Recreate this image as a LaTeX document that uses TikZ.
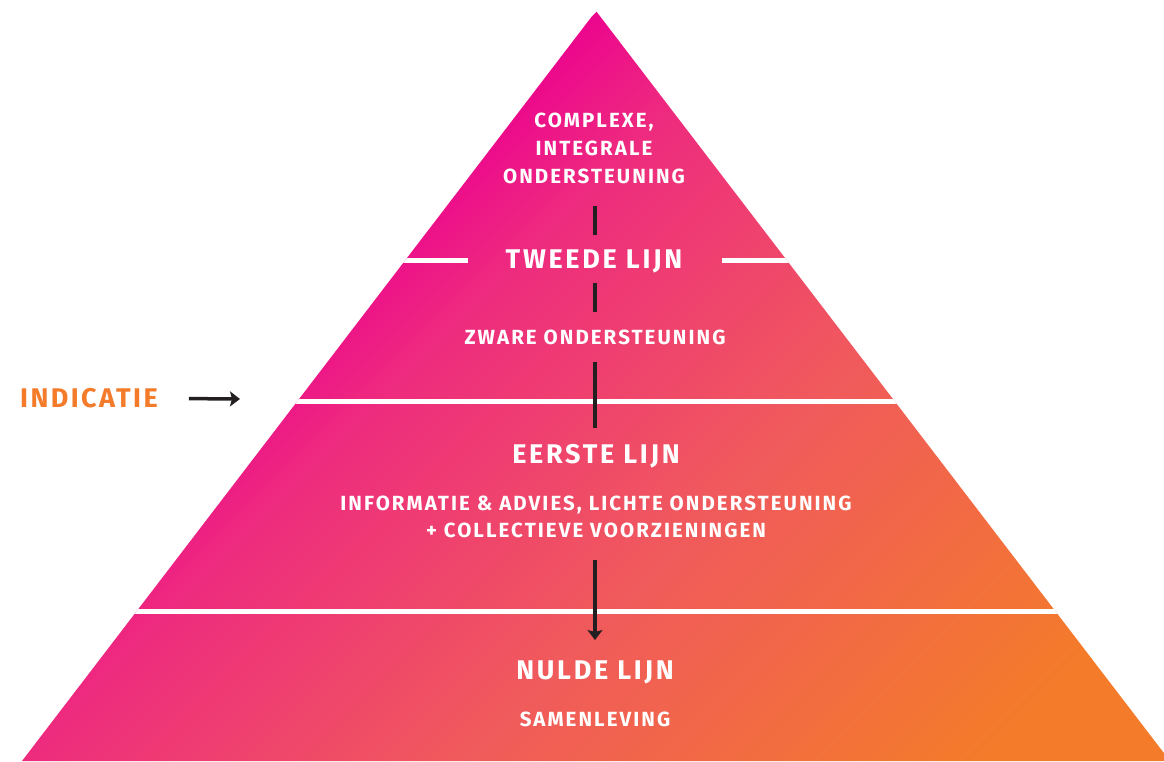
\documentclass[tikz,border=0pt]{standalone}
\usepackage{fontspec}
\setmainfont{Fira Sans}[LetterSpace=10]
\newfontfamily\indicfont{Fira Sans}[LetterSpace=9]
\usetikzlibrary{arrows.meta}

\definecolor{pyrmagenta}{HTML}{EC068D}
\definecolor{pyrpink}{HTML}{EE2C7E}
\definecolor{pyrmid}{HTML}{F05A5C}
\definecolor{pyrorange}{HTML}{F47B2A}
\definecolor{spinegray}{HTML}{231F20}
\definecolor{indicorange}{HTML}{F47B2A}

\pgfdeclarehorizontalshading{pyrgrad}{100bp}{color(0bp)=(pyrmagenta); color(25bp)=(pyrmagenta);
  color(31.6bp)=(pyrpink); color(47.6bp)=(pyrmid); color(67.1bp)=(pyrorange); color(100bp)=(pyrorange)}

\begin{document}
\begin{tikzpicture}[x=1pt,y=-1pt,
  smalltxt/.style={text=white,font=\bfseries\fontsize{20.5}{28}\selectfont,inner sep=0pt,anchor=base},
  lijntxt/.style={text=white,font=\bfseries\fontsize{27}{32}\selectfont,inner sep=0pt,anchor=base},
  spine/.style={draw=spinegray,line width=4pt},
  stripe/.style={draw=white,line width=5pt},
  >={Stealth[length=10pt,width=15pt,inset=2pt]}]

  \useasboundingbox (0,0) rectangle (1164,761);
  \coordinate (apex) at (596,11);
  \coordinate (bl) at (22,761);
  \coordinate (br) at (1170,761);

  % pyramid with diagonal gradient and white bands
  \begin{scope}
    \clip (apex) -- (br) -- (bl) -- cycle;
    \shade[shading=pyrgrad,
      transform canvas={rotate around={-45:(602,678)}}] (127,178) rectangle (1077,1178);
    \coordinate (gapl) at (468,260.5);
    \coordinate (gapr) at (722,260.5);
    \draw[stripe] (0,260.5) -- (gapl);
    \draw[stripe] (gapr) -- (1164,260.5);
    \draw[stripe] (0,401) -- (1164,401);
    \draw[stripe] (0,611) -- (1164,611);
  \end{scope}

  \node[smalltxt, align=center, anchor=north] (complexe) at (594,112.7)
    {COMPLEXE,\\INTEGRALE\\ONDERSTEUNING};
  \node[lijntxt] (tweede) at (594,268) {TWEEDE LIJN};
  \node[smalltxt] (zware) at (595,344) {ZWARE ONDERSTEUNING};
  \node[lijntxt] (eerste) at (596,463.3) {EERSTE LIJN};
  \node[smalltxt] (info) at (596,510.3) {INFORMATIE \& ADVIES, LICHTE ONDERSTEUNING};
  \node[smalltxt] (collect) at (596,537.7) {+ COLLECTIEVE VOORZIENINGEN};
  \node[lijntxt] (nulde) at (595,679) {NULDE LIJN};
  \node[smalltxt] (samen) at (595,726) {SAMENLEVING};

  % vertical line through the levels
  \coordinate (s1a) at (595,206);
  \coordinate (s1b) at (595,235);
  \coordinate (s2a) at (595,283);
  \coordinate (s2b) at (595,312);
  \coordinate (s3a) at (595,362);
  \coordinate (s3b) at (595,428);
  \coordinate (s4a) at (595,560);
  \coordinate (s4b) at (595,640);
  \draw[spine] (s1a) -- (s1b);
  \draw[spine] (s2a) -- (s2b);
  \draw[spine] (s3a) -- (s3b);
  \draw[spine,->] (s4a) -- (s4b);

  \node[text=indicorange, font=\indicfont\bfseries\fontsize{27}{32}\selectfont,
    inner sep=0pt, anchor=base west] (indic) at (20,407.7) {INDICATIE};
  \coordinate (indtip) at (240,399);
  \draw[spine, line width=3.5pt, ->, shorten <=31pt] (indic.east) -- (indtip);
\end{tikzpicture}
\end{document}
